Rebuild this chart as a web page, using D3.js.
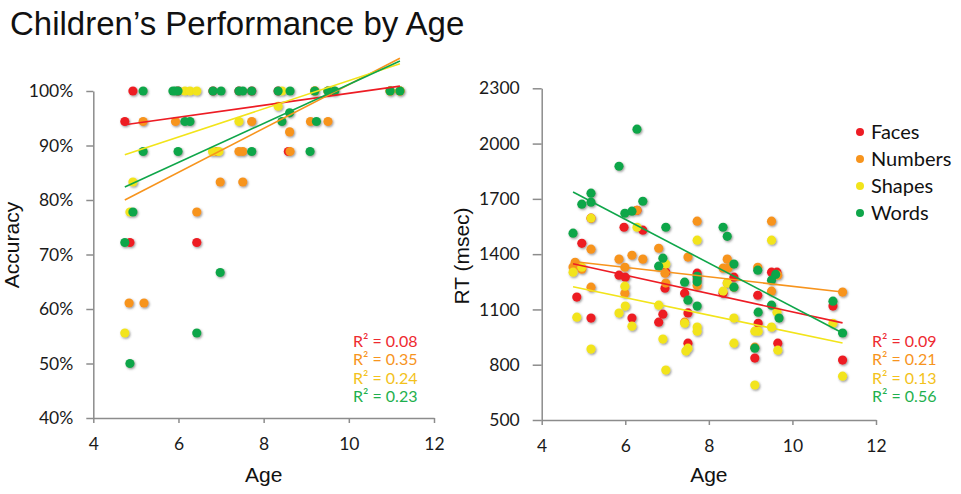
<!DOCTYPE html>
<html>
<head>
<meta charset="utf-8">
<script src="https://cdn.jsdelivr.net/npm/d3@7"></script>
<style>
  body { margin: 0; background: #fff; }
  svg { display: block; }
  .axis path, .axis line { stroke: #8c8c8c; stroke-width: 1.5; }
  .axis text { font-family: Lato, sans-serif; font-size: 17.5px; fill: #1a1a1a; }
  .title { font-family: "Liberation Sans", Arial, sans-serif; fill: #111; }
  .label { font-family: Lato, sans-serif; }
</style>
</head>
<body>
<svg id="chart" width="961" height="494"></svg>
<script>
const seriesNames = ["Faces", "Numbers", "Shapes", "Words"];
const dotColors = ["#ed1c24", "#f7941d", "#f2e41a", "#0fa64a"];
const labelColors = ["#ee2a30", "#f7941d", "#f3c21b", "#1fb04e"];

const ageTicks = [4, 6, 8, 10, 12];
const accTicks = [40, 50, 60, 70, 80, 90, 100];
const rtTicks = [500, 800, 1100, 1400, 1700, 2000, 2300];

const accR2 = ["0.08", "0.35", "0.24", "0.23"];
const rtR2 = ["0.09", "0.21", "0.13", "0.56"];

// accuracy (%) per child: [age, value]
const facesAcc = [[4.93, 100], [4.74, 94.4], [4.86, 72.2], [6.43, 72.2], [5.99, 100], [6.81, 100],
  [7.42, 100], [8.34, 100], [9.2, 100], [9.51, 100], [10.97, 100], [11.2, 100], [8.58, 88.9], [7.72, 100]];
const numbersAcc = [[5.17, 94.4], [5.93, 94.4], [7.72, 94.4], [9.1, 94.4], [9.51, 94.4], [6.9, 88.9],
  [7.42, 88.9], [7.51, 88.9], [8.62, 88.9], [8.61, 92.5], [6.98, 83.3], [7.51, 83.3], [6.43, 77.8],
  [4.84, 61.1], [5.19, 61.1], [9.2, 100], [9.65, 100], [10.97, 100], [11.2, 100]];
const shapesAcc = [[6.15, 100], [6.27, 100], [6.43, 100], [8.43, 100], [9.2, 100], [7.42, 94.4],
  [8.34, 97.2], [6.8, 88.9], [6.95, 88.9], [4.93, 83.3], [4.86, 77.8], [4.74, 55.6], [9.51, 100],
  [10.97, 100], [11.2, 100]];
const wordsAcc = [[5.17, 100], [5.87, 100], [5.93, 100], [5.99, 100], [6.81, 100], [7.0, 100],
  [7.42, 100], [7.51, 100], [7.72, 100], [8.34, 100], [8.62, 100], [9.2, 100], [9.51, 100], [9.67, 100],
  [10.97, 100], [11.2, 100], [6.15, 94.4], [6.27, 94.4], [8.43, 94.4], [9.24, 94.4], [8.61, 96],
  [5.17, 88.9], [5.99, 88.9], [7.72, 88.9], [9.09, 88.9], [4.93, 77.8], [4.74, 72.2], [6.98, 66.7],
  [6.43, 55.6], [4.86, 50]];

// reaction time (msec) per child: [age, value]
const facesRt = [[4.84, 1167], [4.96, 1459], [5.18, 1595], [5.18, 1053], [5.97, 1546], [5.85, 1286],
  [6.0, 1275], [6.28, 1638], [6.42, 1530], [6.16, 1053], [6.97, 1302], [6.95, 1215], [6.9, 1074],
  [6.8, 1031], [7.42, 1188], [7.5, 1081], [7.5, 917], [7.72, 1297], [7.72, 1265], [8.34, 1188],
  [8.6, 1275], [9.17, 1177], [9.18, 1025], [9.1, 836], [9.5, 1302], [9.63, 1302], [9.65, 917],
  [10.97, 1118], [11.2, 825]];
const numbersRt = [[4.8, 1356], [4.84, 1340], [4.75, 1330], [4.96, 1318], [5.18, 1427], [5.18, 1221],
  [5.85, 1373], [5.99, 1329], [6.16, 1394], [6.42, 1373], [5.99, 1188], [6.28, 1638], [6.8, 1432],
  [6.95, 1297], [6.97, 1243], [7.5, 1384], [7.42, 1031], [7.72, 1579], [7.72, 1230], [8.44, 1373],
  [8.34, 1324], [8.46, 1324], [8.6, 1221], [8.44, 1243], [9.17, 1329], [9.1, 895], [9.5, 1579],
  [9.65, 1286], [9.5, 1199], [11.2, 1194]];
const shapesRt = [[4.75, 1302], [4.96, 1329], [5.18, 1595], [4.84, 1058], [5.18, 885], [5.99, 1226],
  [5.85, 1080], [6.0, 1118], [6.16, 1009], [6.28, 1546], [6.97, 1346], [6.8, 1123], [6.9, 939],
  [6.97, 771], [7.42, 1025], [7.5, 890], [7.45, 874], [7.72, 1476], [7.72, 1004], [7.72, 982],
  [8.34, 1199], [8.44, 1243], [8.6, 1053], [8.6, 917], [9.1, 690], [9.18, 982], [9.1, 982],
  [9.5, 1476], [9.63, 1085], [9.5, 1004], [9.65, 879], [10.97, 1025], [11.2, 738]];
const wordsRt = [[4.75, 1514], [4.96, 1671], [5.18, 1731], [5.18, 1682], [5.85, 1877], [6.28, 2078],
  [5.99, 1622], [6.16, 1633], [6.42, 1687], [6.97, 1546], [6.9, 1378], [6.8, 1335], [7.42, 1248],
  [7.5, 1150], [7.72, 1280], [7.72, 1250], [7.72, 1118], [8.34, 1546], [8.44, 1497], [8.6, 1221],
  [8.6, 1346], [9.17, 1313], [9.18, 1085], [9.1, 890], [9.6, 1290], [9.5, 1259], [9.5, 1123],
  [9.68, 1053], [10.97, 1145], [11.2, 972]];

// linear trend lines: value at first and last age
const accTrendAges = [4.74, 11.2];
const accTrendValues = [[93.8, 100.9], [80.0, 106.0], [88.3, 105.0], [82.4, 105.5]];
const rtTrendAges = [4.75, 11.2];
const rtTrendValues = [[1348, 1027], [1360, 1195], [1223, 918], [1737, 972]];

const svg = d3.select("#chart");
svg.append("rect").attr("width", 961).attr("height", 494).attr("fill", "#fff");

const shadow = svg.append("defs").append("filter").attr("id", "shadow")
  .attr("x", "-50%").attr("y", "-50%").attr("width", "200%").attr("height", "200%");
shadow.append("feDropShadow").attr("dx", 1).attr("dy", 1.2).attr("stdDeviation", 0.9)
  .attr("flood-color", "#555").attr("flood-opacity", 0.6);

svg.append("text").attr("class", "title")
  .attr("x", 10).attr("y", 35).attr("font-size", 33)
  .text("Children\u2019s Performance by Age");

function renderPanel(cfg) {
  const x = d3.scaleLinear().domain([4, 12]).range(cfg.xRange);
  const y = d3.scaleLinear().domain(cfg.yDomain).range(cfg.yRange);

  svg.append("g").attr("class", "axis")
    .attr("transform", `translate(0,${cfg.yRange[0]})`)
    .call(d3.axisBottom(x).tickValues(ageTicks).tickSize(5).tickSizeOuter(0).tickPadding(15));

  svg.append("g").attr("class", "axis")
    .attr("transform", `translate(${cfg.xRange[0]},0)`)
    .call(d3.axisLeft(y).tickValues(cfg.yTicks).tickSize(cfg.yTickSize).tickSizeOuter(0)
      .tickPadding(cfg.yTickPad).tickFormat(cfg.yFormat));

  const gDots = svg.append("g").attr("filter", "url(#shadow)");
  cfg.series.forEach((data, i) => {
    gDots.append("g").selectAll("circle")
      .data(data)
      .join("circle")
      .attr("cx", (d) => x(d[0]))
      .attr("cy", (d) => y(d[1]))
      .attr("r", 4.6)
      .attr("fill", dotColors[i]);
  });

  const line = d3.line().x((d) => x(d[0])).y((d) => y(d[1]));
  cfg.trends.forEach((vals, i) => {
    svg.append("path")
      .attr("d", line(cfg.trendAges.map((a, j) => [a, vals[j]])))
      .attr("fill", "none")
      .attr("stroke", dotColors[i])
      .attr("stroke-width", 1.6);
  });

  svg.append("g").selectAll("text")
    .data(cfg.r2)
    .join("text")
    .attr("class", "label")
    .attr("x", cfg.r2X)
    .attr("y", (d, i) => 347 + i * 18.3)
    .attr("font-size", 16)
    .attr("fill", (d, i) => labelColors[i])
    .text((d) => `R\u00b2 = ${d}`);

  svg.append("text").attr("class", "title")
    .attr("x", d3.mean(cfg.xRange)).attr("y", 482)
    .attr("text-anchor", "middle").attr("font-size", 21)
    .text("Age");

  svg.append("text").attr("class", "title")
    .attr("transform", `translate(${cfg.yTitleX},${cfg.yTitleY}) rotate(-90)`)
    .attr("text-anchor", "middle").attr("font-size", 21)
    .text(cfg.yTitle);
}

renderPanel({
  xRange: [93.3, 434],
  yDomain: [40, 100],
  yRange: [418, 91],
  yTicks: accTicks,
  yTickSize: 7,
  yTickPad: 13,
  yFormat: (d) => d + "%",
  series: [facesAcc, numbersAcc, shapesAcc, wordsAcc],
  trendAges: accTrendAges,
  trends: accTrendValues,
  r2: accR2,
  r2X: 353,
  yTitle: "Accuracy",
  yTitleX: 19,
  yTitleY: 245,
});

renderPanel({
  xRange: [541.7, 876],
  yDomain: [500, 2300],
  yRange: [420, 88.3],
  yTicks: rtTicks,
  yTickSize: 9,
  yTickPad: 13,
  yFormat: (d) => d,
  series: [facesRt, numbersRt, shapesRt, wordsRt],
  trendAges: rtTrendAges,
  trends: rtTrendValues,
  r2: rtR2,
  r2X: 872,
  yTitle: "RT (msec)",
  yTitleX: 469,
  yTitleY: 256,
});

// legend
const legend = svg.append("g").selectAll("g")
  .data(seriesNames)
  .join("g")
  .attr("transform", (d, i) => `translate(860,${132 + i * 27})`);
legend.append("circle").attr("r", 4).attr("fill", (d, i) => dotColors[i]);
legend.append("text")
  .attr("class", "label")
  .attr("x", 11).attr("dy", "0.35em")
  .attr("font-size", 20)
  .attr("fill", "#111")
  .text((d) => d);
</script>
</body>
</html>
